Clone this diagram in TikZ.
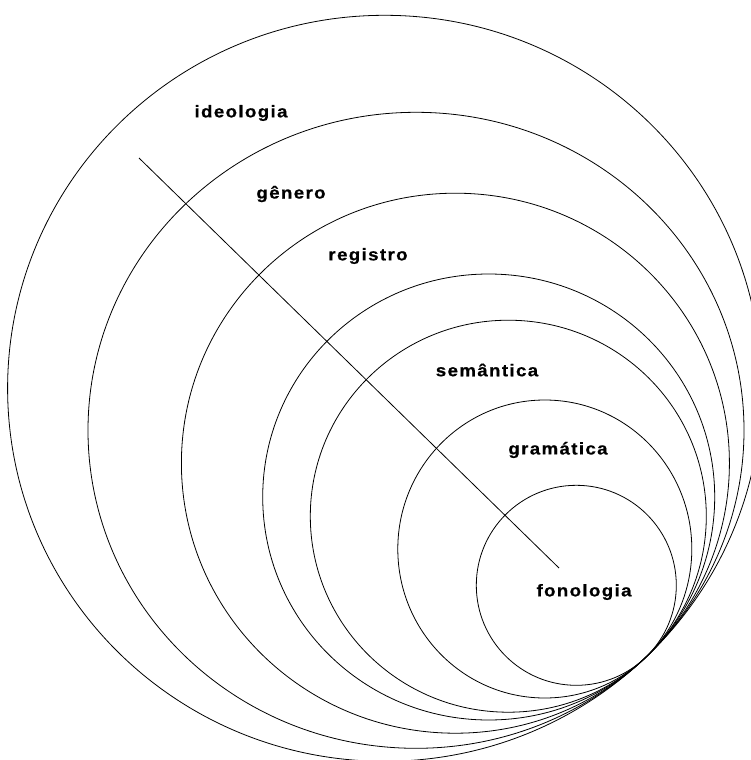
\documentclass[tikz,border=0pt]{standalone}
\usepackage{fontspec}
\setmainfont{Liberation Sans}
\newfontfamily\labfont{Liberation Sans}[FakeStretch=1.1,LetterSpace=8,FakeBold=0.6]
\usepackage{tikz}
\usetikzlibrary{positioning}

\tikzset{lab/.style={font=\labfont\bfseries\fontsize{17}{19}\selectfont, inner sep=0pt}}

\begin{document}
\begin{tikzpicture}[x=1pt,y=-1pt,line width=0.8pt]
  \useasboundingbox (0,0) rectangle (751,760);
  % nested levels, outermost first, all touching near (645,658)
  \foreach \cx/\cy/\rx/\ry in {384.6/388.3/377/373,416/430.3/328/318,455.4/463.2/274/270,
                              488.7/497/226/223,508.3/516.2/198/196,544.8/549/147/149,576.3/585.3/100/100} {
    \draw (\cx,\cy) ellipse [x radius=\rx pt, y radius=\ry pt];
  }
  \node[lab] (ideo) at (241,113) {ideologia};
  \node[lab] (gen) at (291,194) {gênero};
  \node[lab] (reg) at (368,256) {registro};
  \node[lab] (sem) at (487,370) {semântica};
  \node[lab] (gram) at (558,450) {gramática};
  \node[lab] (fono) at (584,592) {fonologia};
  \coordinate (lnA) at (139,158);
  \coordinate (lnB) at (559,568);
  \draw (lnA) -- (lnB);
\end{tikzpicture}
\end{document}
